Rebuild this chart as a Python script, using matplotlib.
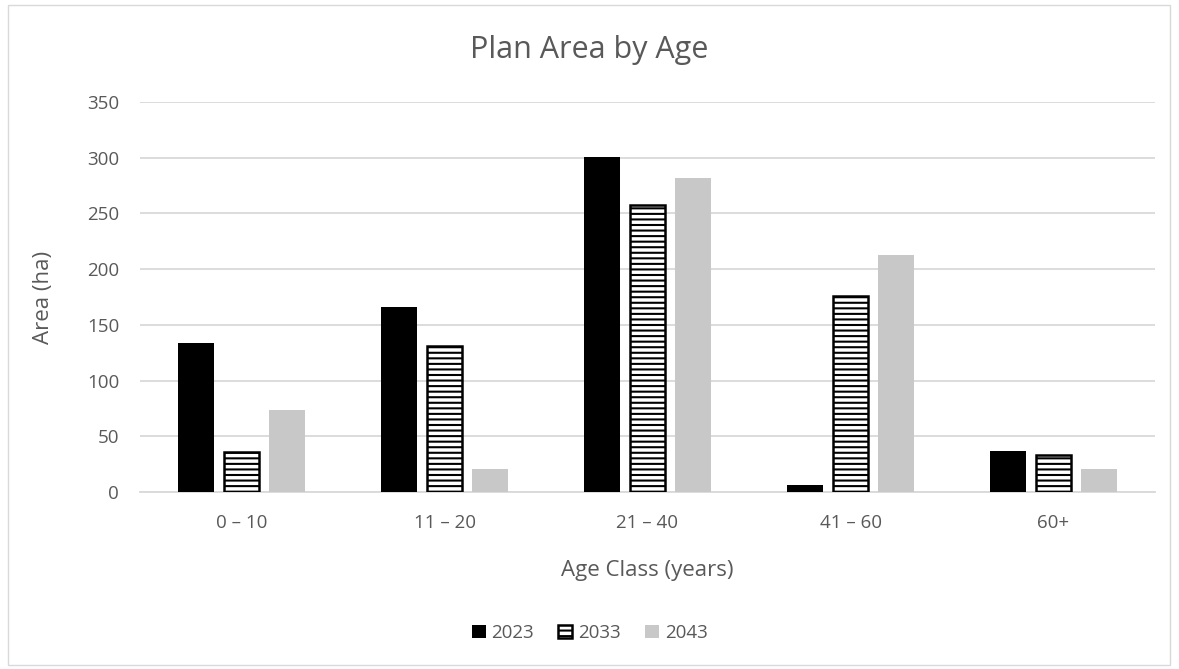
import numpy as np
import matplotlib.pyplot as plt
from matplotlib.patches import Rectangle

plt.rcParams['font.family'] = ['Open Sans', 'DejaVu Sans']
plt.rcParams['hatch.linewidth'] = 1.5

# data
categories = ["0 – 10", "11 – 20", "21 – 40", "41 – 60", "60+"]
years = ["2023", "2033", "2043"]
area_2023 = [134, 166, 301, 6, 37]
area_2033 = [36, 131, 258, 176, 33]
area_2043 = [74, 21, 282, 213, 21]

txt = "#595959"
fig = plt.figure(figsize=(11.79, 6.69), dpi=100)
ax = fig.add_axes([140/1179, 1-492/669, 1015/1179, 390/669])

x = np.arange(len(categories))
w = 0.177
step = w + 0.046
ax.bar(x - step, area_2023, w, color="black", label=years[0], zorder=3)
ax.bar(x, area_2033, w, color="white", edgecolor="black", hatch="---",
       linewidth=1.8, label=years[1], zorder=3)
ax.bar(x + step, area_2043, w, color="#c8c8c8", label=years[2], zorder=3)

ax.set_xlim(-0.5, 4.5)
ax.set_ylim(0, 350)
ax.set_yticks(range(0, 351, 50))
ax.yaxis.grid(True, color="#d9d9d9", linewidth=1.3, zorder=0)
for s in ["top", "right", "left"]:
    ax.spines[s].set_visible(False)
ax.spines["bottom"].set_color("#d9d9d9")
ax.spines["bottom"].set_linewidth(1.3)
ax.set_xticks(x)
ax.set_xticklabels(categories)
ax.tick_params(axis="both", length=0, labelsize=13.5, colors=txt)
ax.tick_params(axis="x", pad=16)
ax.tick_params(axis="y", pad=15)

ax.set_xlabel("Age Class (years)", fontsize=16, color=txt, labelpad=20)
ax.set_ylabel("Area (ha)", fontsize=16, color=txt, labelpad=24)
fig.text(0.5, 1-50/669, "Plan Area by Age", ha="center", va="center",
         fontsize=22, color=txt)

leg = fig.legend(loc="center", bbox_to_anchor=(0.5, 1-633/669), ncol=3,
                 frameon=False, fontsize=13.5, handlelength=0.75, handleheight=0.75,
                 handletextpad=0.3, columnspacing=1.3, labelcolor=txt)

fig.patches.append(Rectangle((8/1179, 4/669), 1162/1179, 660/669,
                             transform=fig.transFigure, fill=False,
                             edgecolor="#d9d9d9", linewidth=1))

fig.savefig("out.png", dpi=100)
